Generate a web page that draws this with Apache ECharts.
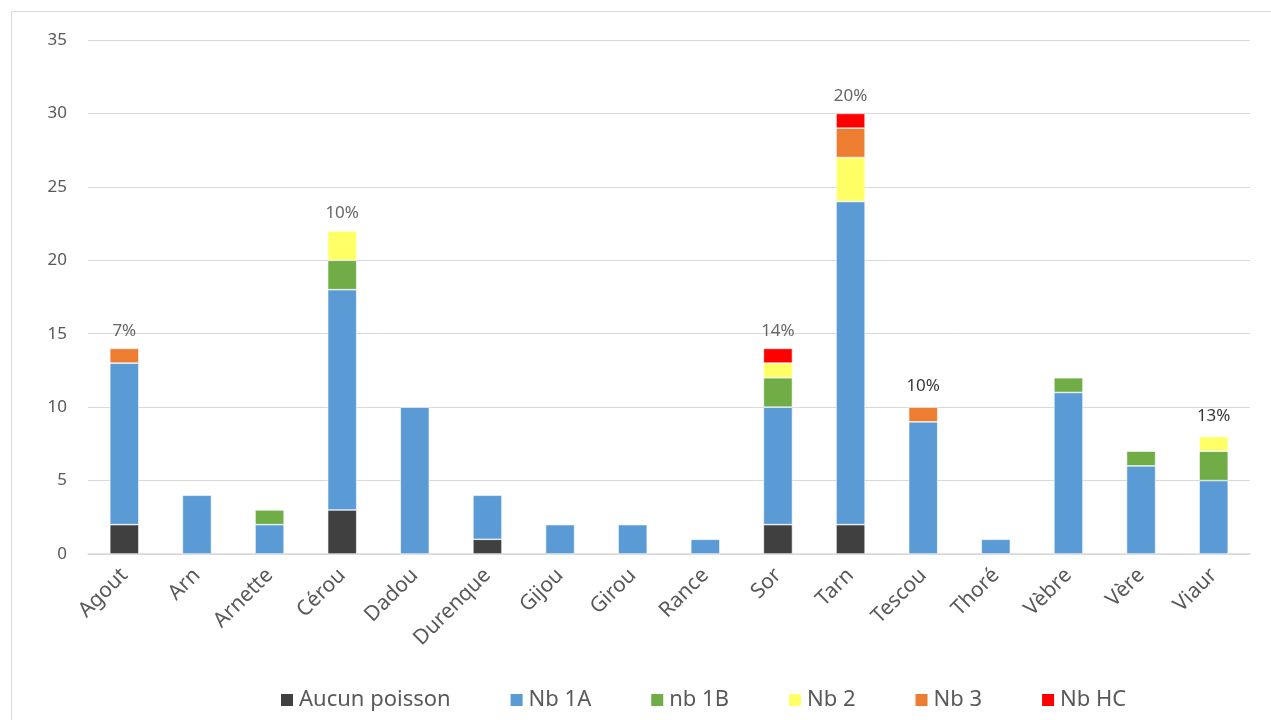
<!DOCTYPE html>
<html><head><meta charset="utf-8">
<script src="https://cdn.jsdelivr.net/npm/echarts@6/dist/echarts.min.js"></script>
<style>html,body{margin:0;padding:0;background:#fff}#c{width:1271px;height:720px}</style>
</head><body><div id="c"></div>
<script>
const categories = ['Agout','Arn','Arnette','Cérou','Dadou','Durenque','Gijou','Girou','Rance','Sor','Tarn','Tescou','Thoré','Vèbre','Vère','Viaur'];
const aucunPoisson = [2,0,0,3,0,1,0,0,0,2,2,0,0,0,0,0];
const nb1A = [11,4,2,15,10,3,2,2,1,8,22,9,1,11,6,5];
const nb1B = [0,0,1,2,0,0,0,0,0,2,0,0,0,1,1,2];
const nb2  = [0,0,0,2,0,0,0,0,0,1,3,0,0,0,0,1];
const nb3  = [1,0,0,0,0,0,0,0,0,0,2,1,0,0,0,0];
const nbHC = [0,0,0,0,0,0,0,0,0,1,1,0,0,0,0,0];
const pctLabels = ['7%','','','10%','','','','','','14%','20%','10%','','','','13%'];
const pctDark = [false,false,false,false,false,false,false,false,false,false,false,true,false,false,false,true];
const yTicks = [0,5,10,15,20,25,30,35];

const FONT = 'Noto Sans';
const seriesDefs = [
  ['Aucun poisson', aucunPoisson, '#404040'],
  ['Nb 1A', nb1A, '#5B9BD5'],
  ['nb 1B', nb1B, '#70AD47'],
  ['Nb 2', nb2, '#FFFF66'],
  ['Nb 3', nb3, '#ED7D31'],
  ['Nb HC', nbHC, '#FF0000']
];
const totals = categories.map((c,i)=>seriesDefs.reduce((s,d)=>s+d[1][i],0));

const series = seriesDefs.map(([name,data,color])=>({
  name, type:'bar', stack:'total', data: data.map(v=>v===0?null:v),
  barWidth:'40%',
  itemStyle:{color, borderColor:'#ffffff', borderWidth:0.6},
  emphasis:{disabled:true}
}));
series.push({
  name:'pct', type:'scatter', symbolSize:0, silent:true,
  data: categories.map((c,i)=>({value:[c,totals[i]], pct:pctLabels[i],
    label:{show: pctLabels[i]!=='', color: pctDark[i]?'#000000':'#404040', distance: pctDark[i]?12:9}})),
  label:{position:'top', fontFamily:FONT, fontSize:17,
    formatter:p=>p.data.pct}
});

const chart = echarts.init(document.getElementById('c'));
chart.setOption({
  animation:false,
  textStyle:{fontFamily:FONT},
  graphic:[{type:'rect', shape:{x:11.5,y:11.5,width:1300,height:800},
    style:{fill:'none', stroke:'#d9d9d9', lineWidth:1}, z:-1}],
  grid:{left:88, right:21, top:40, bottom:166},
  legend:{
    bottom:4, left:274, itemWidth:14, itemHeight:14, itemGap:58,
    icon:'rect',
    data: seriesDefs.map(d=>d[0]),
    textStyle:{fontFamily:FONT, fontSize:22, color:'#595959'}
  },
  xAxis:{
    type:'category', data:categories,
    axisLine:{lineStyle:{color:'#d9d9d9', width:1.5}},
    axisTick:{show:false},
    axisLabel:{rotate:45, fontFamily:FONT, fontSize:21, color:'#595959', margin:18, interval:0}
  },
  yAxis:{
    type:'value', min:yTicks[0], max:yTicks[yTicks.length-1], interval:5,
    axisLine:{show:false}, axisTick:{show:false},
    splitLine:{lineStyle:{color:'#d9d9d9', width:1}},
    axisLabel:{fontFamily:FONT, fontSize:17, color:'#595959', margin:21}
  },
  series
});
</script></body></html>
